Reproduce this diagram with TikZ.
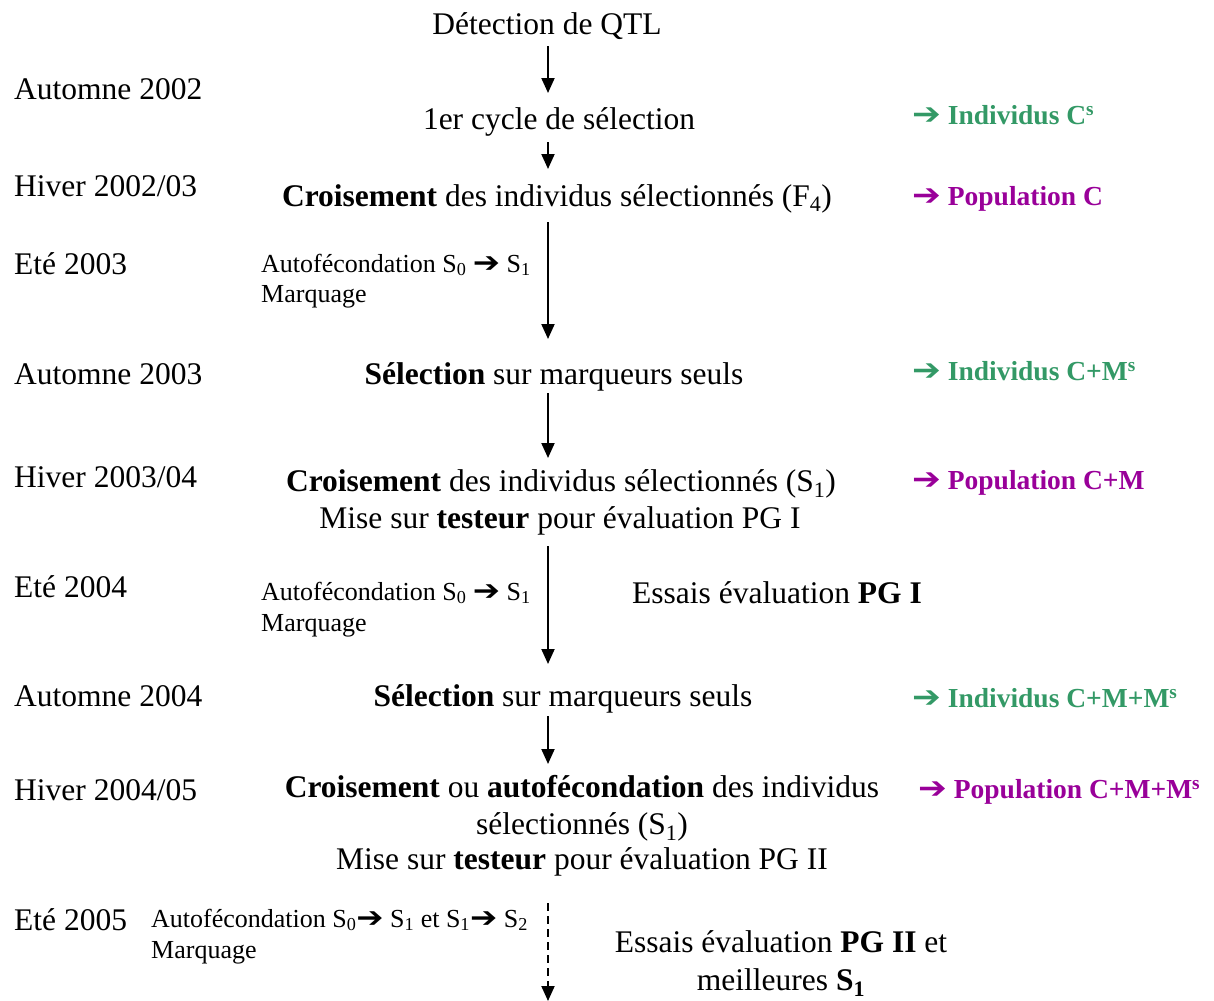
\documentclass[tikz,border=0pt]{standalone}
\usepackage{fontspec}
\setmainfont{Liberation Serif}
\newfontfamily\arrf{DejaVu Sans}
\usetikzlibrary{arrows.meta}
\definecolor{mgreen}{RGB}{51,153,102}
\definecolor{mpurple}{RGB}{153,0,153}
\newcommand\mainsz{\fontsize{31.5bp}{36bp}\selectfont}
\newcommand\smsz{\fontsize{26bp}{30bp}\selectfont}
\newcommand\colsz{\fontsize{27.5bp}{32bp}\selectfont}
\newcommand\rarr{{\arrf\bfseries\scalebox{1.25}[1.1]{\symbol{"2794}}}}
\begin{document}
\begin{tikzpicture}[x=1bp,y=-1bp,
  ctext/.style={font=\mainsz, inner sep=0pt, anchor=base},
  ltext/.style={font=\mainsz, inner sep=0pt, anchor=base west},
  stext/.style={font=\smsz, inner sep=0pt, anchor=base west},
  gtext/.style={font=\colsz\bfseries, text=mgreen, inner sep=0pt, anchor=base west},
  ptext/.style={font=\colsz\bfseries, text=mpurple, inner sep=0pt, anchor=base west},
  flow/.style={line width=2bp, -{Triangle[length=15bp,width=13bp]}},
  dflow/.style={flow, dash pattern=on 8bp off 5bp}]
\useasboundingbox (0,0) rectangle (1214,1001);
% left column
\node[ltext] (y1) at (14,99) {Automne 2002};
\node[ltext] (y2) at (14,196) {Hiver 2002/03};
\node[ltext] (y3) at (14,274) {Eté 2003};
\node[ltext] (y4) at (14,384) {Automne 2003};
\node[ltext] (y5) at (14,487) {Hiver 2003/04};
\node[ltext] (y6) at (14,597) {Eté 2004};
\node[ltext] (y7) at (14,706) {Automne 2004};
\node[ltext] (y8) at (14,800) {Hiver 2004/05};
\node[ltext] (y9) at (14,930) {Eté 2005};
% center column
\node[ctext] (det) at (547,34) {Détection de QTL};
\node[ctext] (cyc) at (559,129) {1er cycle de sélection};
\node[ctext] (cr1) at (557,206) {\textbf{Croisement} des individus sélectionnés (F\textsubscript{4})};
\node[stext] (au1a) at (261,272) {Autofécondation S\textsubscript{0} \rarr{} S\textsubscript{1}};
\node[stext] (au1b) at (261,302) {Marquage};
\node[ctext] (se1) at (554,384) {\textbf{Sélection} sur marqueurs seuls};
\node[ctext] (cr2) at (561,491) {\textbf{Croisement} des individus sélectionnés (S\textsubscript{1})};
\node[ctext] (mi1) at (560,528) {Mise sur \textbf{testeur} pour évaluation PG I};
\node[stext] (au2a) at (261,600) {Autofécondation S\textsubscript{0} \rarr{} S\textsubscript{1}};
\node[stext] (au2b) at (261,631) {Marquage};
\node[ltext] (es1) at (632,603) {Essais évaluation \textbf{PG I}};
\node[ctext] (se2) at (563,706) {\textbf{Sélection} sur marqueurs seuls};
\node[ctext] (cr3) at (582,797) {\textbf{Croisement} ou \textbf{autofécondation} des individus};
\node[ctext] (cr3b) at (582,834) {sélectionnés (S\textsubscript{1})};
\node[ctext] (mi2) at (582,869) {Mise sur \textbf{testeur} pour évaluation PG II};
\node[stext] (au3a) at (151,927) {Autofécondation S\textsubscript{0}\rarr{} S\textsubscript{1} et S\textsubscript{1}\rarr{} S\textsubscript{2}};
\node[stext] (au3b) at (151,958) {Marquage};
\node[ctext] (es2) at (781,952) {Essais évaluation \textbf{PG II} et};
\node[ctext] (es2b) at (781,990) {meilleures \textbf{S\textsubscript{1}}};
% right column
\node[gtext] (r1) at (912,124) {\rarr{} Individus C\textsuperscript{s}};
\node[ptext] (r2) at (912,205) {\rarr{} Population C};
\node[gtext] (r3) at (912,380) {\rarr{} Individus C+M\textsuperscript{s}};
\node[ptext] (r4) at (912,489) {\rarr{} Population C+M};
\node[gtext] (r5) at (912,707) {\rarr{} Individus C+M+M\textsuperscript{s}};
\node[ptext] (r6) at (918,798) {\rarr{} Population C+M+M\textsuperscript{s}};
% arrow end points
\coordinate (a1s) at (548,46);  \coordinate (a1e) at (548,93);
\coordinate (a2s) at (548,142); \coordinate (a2e) at (548,169);
\coordinate (a3s) at (548,222); \coordinate (a3e) at (548,339);
\coordinate (a4s) at (548,393); \coordinate (a4e) at (548,458);
\coordinate (a5s) at (548,546); \coordinate (a5e) at (548,664);
\coordinate (a6s) at (548,716); \coordinate (a6e) at (548,764);
\coordinate (a7s) at (548,903); \coordinate (a7e) at (548,1001);
\draw[flow] (a1s) -- (a1e);
\draw[flow] (a2s) -- (a2e);
\draw[flow] (a3s) -- (a3e);
\draw[flow] (a4s) -- (a4e);
\draw[flow] (a5s) -- (a5e);
\draw[flow] (a6s) -- (a6e);
\draw[dflow] (a7s) -- (a7e);
\end{tikzpicture}
\end{document}
